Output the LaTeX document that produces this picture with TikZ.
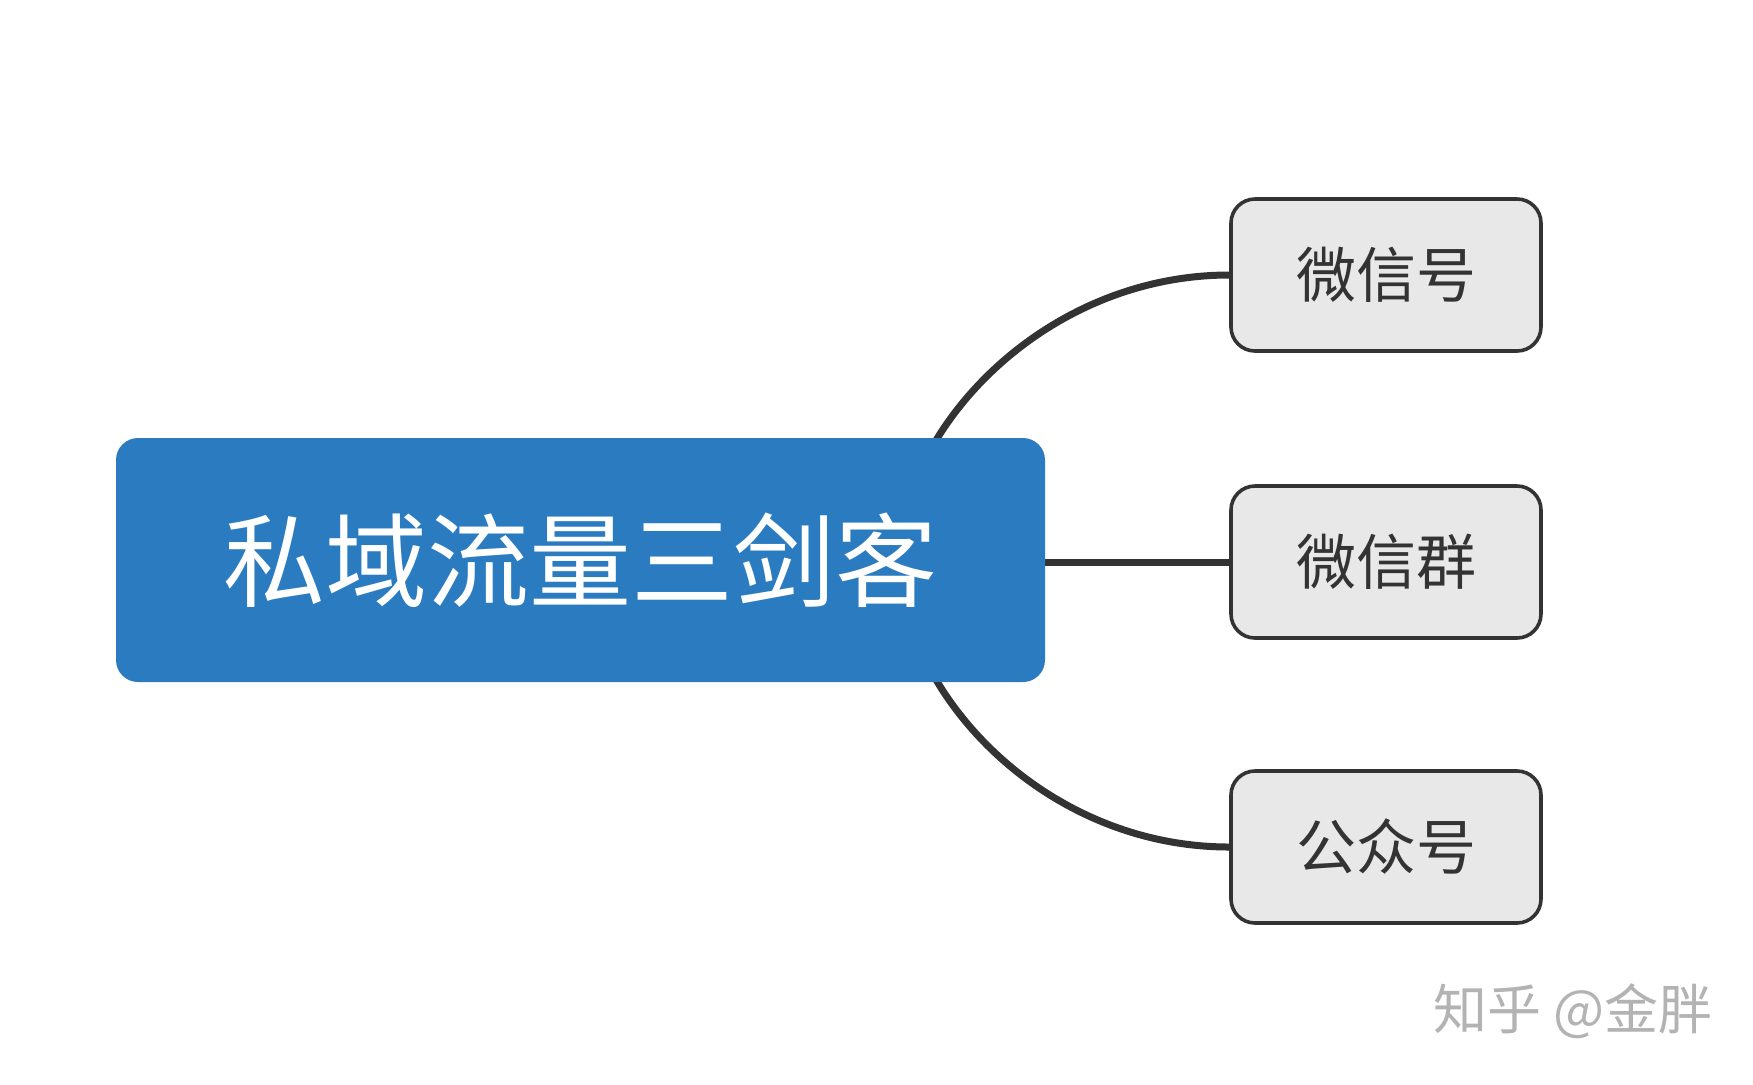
\documentclass[tikz,border=0pt]{standalone}
\usepackage{fontspec}
\setmainfont{Noto Sans CJK SC}
\usetikzlibrary{backgrounds}
\definecolor{mainblue}{HTML}{2B7BC1}
\definecolor{boxgray}{HTML}{E8E8E8}
\definecolor{darkline}{HTML}{333333}
\definecolor{wmgray}{HTML}{B3B3B3}
\begin{document}
\begin{tikzpicture}[x=0.5pt,y=-0.5pt,
  mainbox/.style={rectangle, rounded corners=11pt, fill=mainblue, text=white,
    minimum width=464.5pt, minimum height=122pt, inner sep=0pt,
    font=\fontsize{51}{60}\selectfont},
  leafbox/.style={rectangle, rounded corners=12pt, fill=boxgray, draw=darkline,
    line width=1.8pt, text=darkline, minimum width=155pt, minimum height=76pt,
    inner sep=0pt, font=\fontsize{30}{36}\selectfont},
  conn/.style={draw=darkline, line width=3.5pt},
  wm/.style={text=wmgray, inner sep=0pt, font=\fontsize{27}{32}\selectfont}]
\useasboundingbox (0,0) rectangle (1753,1084);
\node[mainbox] (main) at (580.5,560) {私域流量三剑客};
\node[leafbox] (b1) at (1386,275) {微信号};
\node[leafbox] (b2) at (1386,562) {微信群};
\node[leafbox] (b3) at (1386,847) {公众号};
\coordinate (s1) at (935,442);
\coordinate (s3) at (935,678);
\begin{scope}[on background layer]
\fill[white] (0,0) rectangle (1753,1084);
\draw[conn] (s1) .. controls (990,350) and (1100,275) .. (b1.west);
\draw[conn] (main.east |- b2.west) -- (b2.west);
\draw[conn] (s3) .. controls (990,772) and (1100,847) .. (b3.west);
\end{scope}
\node[wm, anchor=west] (wmark) at (1433,1011) {知乎 @金胖};
\end{tikzpicture}
\end{document}
